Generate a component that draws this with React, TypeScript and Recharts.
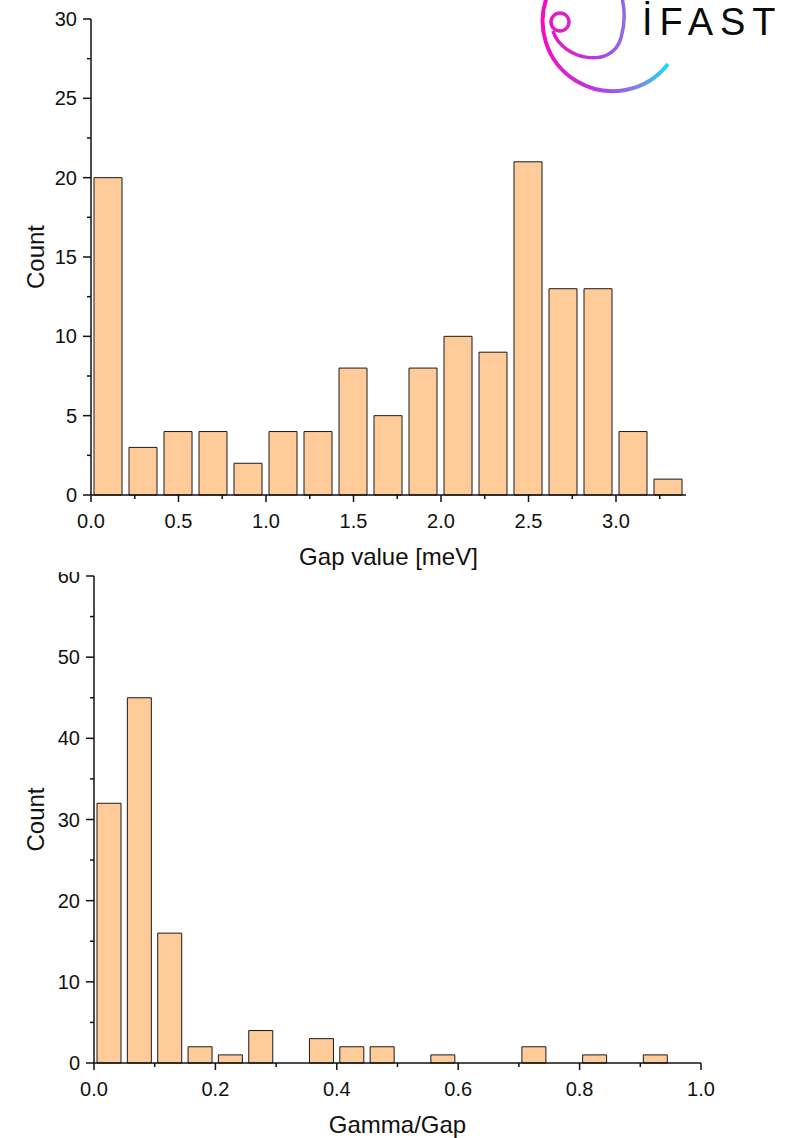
import { BarChart, Bar, XAxis, YAxis } from 'recharts'

// Gap histogram: bin centres (0.2 meV bins) and counts
const gapBins = [0.1, 0.3, 0.5, 0.7, 0.9, 1.1, 1.3, 1.5, 1.7, 1.9, 2.1, 2.3, 2.5, 2.7, 2.9, 3.1, 3.3]
const gapCounts = [20, 3, 4, 4, 2, 4, 4, 8, 5, 8, 10, 9, 21, 13, 13, 4, 1]
const gapXTicks = [0, 0.25, 0.5, 0.75, 1, 1.25, 1.5, 1.75, 2, 2.25, 2.5, 2.75, 3, 3.25]
const gapYTicks = [0, 2.5, 5, 7.5, 10, 12.5, 15, 17.5, 20, 22.5, 25, 27.5, 30]

// Gamma/Gap histogram: bin centres (0.05 bins) and counts
const ratioBins = [
  0.025, 0.075, 0.125, 0.175, 0.225, 0.275, 0.325, 0.375, 0.425, 0.475,
  0.525, 0.575, 0.625, 0.675, 0.725, 0.775, 0.825, 0.875, 0.925, 0.975,
]
const ratioCounts = [32, 45, 16, 2, 1, 4, 0, 3, 2, 2, 0, 1, 0, 0, 2, 0, 1, 0, 1, 0]
const ratioXTicks = [0, 0.1, 0.2, 0.3, 0.4, 0.5, 0.6, 0.7, 0.8, 0.9, 1]
const ratioYTicks = [0, 5, 10, 15, 20, 25, 30, 35, 40, 45, 50, 55, 60]

const gapData = gapBins.map((bin, i) => ({ bin, count: gapCounts[i] }))
const ratioData = ratioBins.map((bin, i) => ({ bin, count: ratioCounts[i] }))

const FONT = '"Liberation Sans", Arial, sans-serif'
const INK = '#111'
const BAR_FILL = '#FFCC99'

const isMajor = (v: number, step: number) => Math.abs(v / step - Math.round(v / step)) < 1e-6

function BottomTick(props: any) {
  const { x, y, payload, step, digits } = props
  const major = isMajor(payload.value, step)
  return (
    <g>
      <line x1={x} x2={x} y1={y} y2={y + (major ? 7 : 4)} stroke={INK} strokeWidth={1.5} />
      {major && (
        <text x={x} y={y + 26} textAnchor="middle" dominantBaseline="central" fontSize={20} fontFamily={FONT} fill={INK}>
          {payload.value.toFixed(digits)}
        </text>
      )}
    </g>
  )
}

function LeftTick(props: any) {
  const { x, y, payload, step } = props
  const major = isMajor(payload.value, step)
  return (
    <g>
      <line x1={x} x2={x - (major ? 8 : 4)} y1={y} y2={y} stroke={INK} strokeWidth={1.5} />
      {major && (
        <text x={x - 14} y={y} textAnchor="end" dominantBaseline="central" fontSize={20} fontFamily={FONT} fill={INK}>
          {payload.value}
        </text>
      )}
    </g>
  )
}

const axisLine = { stroke: INK, strokeWidth: 1.5 }
const titleStyle = { fontSize: 24, fontFamily: FONT, fill: INK }

function Logo() {
  return (
    <svg width={786} height={100} style={{ position: 'absolute', left: 0, top: 0, pointerEvents: 'none' }}>
      <defs>
        <linearGradient id="swirl" gradientUnits="userSpaceOnUse" x1={545} y1={0} x2={670} y2={0}>
          <stop offset="0" stopColor="#f20fc1" />
          <stop offset="0.45" stopColor="#b33fe0" />
          <stop offset="0.75" stopColor="#7a86ea" />
          <stop offset="1" stopColor="#12e4f2" />
        </linearGradient>
      </defs>
      <path d="M 549 -8 A 70 70 0 0 0 668 64" fill="none" stroke="url(#swirl)" strokeWidth={4} />
      <circle cx={560} cy={22} r={9} fill="none" stroke="url(#swirl)" strokeWidth={3.5} />
      <path d="M 553 31 C 562 60, 612 70, 621 38 C 625 24, 625 10, 622 -2" fill="none" stroke="url(#swirl)" strokeWidth={3.5} />
      <text x={642} y={35} fontSize={38} fontFamily={FONT} letterSpacing={7} fill="#0a0a0a">
        İFAST
      </text>
    </svg>
  )
}

export default function App() {
  return (
    <div style={{ position: 'absolute', left: 0, top: 0, width: 786, height: 1138, background: '#fff' }}>
      <div style={{ position: 'absolute', left: 0, top: 0 }}>
        <BarChart width={786} height={570} data={gapData} margin={{ top: 19, right: 100, left: 0, bottom: 0 }}>
          <XAxis
            type="number"
            dataKey="bin"
            domain={[0, 3.4]}
            ticks={gapXTicks}
            interval={0}
            height={75}
            tickSize={0}
            tickMargin={0}
            tickLine={false}
            axisLine={axisLine}
            tick={(p: any) => <BottomTick {...p} step={0.5} digits={1} />}
            label={{ value: 'Gap value [meV]', position: 'insideBottom', offset: 5, style: titleStyle }}
          />
          <YAxis
            type="number"
            domain={[0, 30]}
            ticks={gapYTicks}
            interval={0}
            width={91}
            tickSize={0}
            tickMargin={0}
            tickLine={false}
            axisLine={axisLine}
            tick={(p: any) => <LeftTick {...p} step={5} />}
            label={{ value: 'Count', angle: -90, position: 'insideLeft', offset: 35, style: { ...titleStyle, textAnchor: 'middle' } }}
          />
          <Bar dataKey="count" fill={BAR_FILL} stroke="#1a1a1a" strokeWidth={1} barSize={28} isAnimationActive={false} />
        </BarChart>
      </div>

      {/* lower panel sits in a clipped frame, so its top tick label is trimmed */}
      <div style={{ position: 'absolute', left: 0, top: 572, width: 786, height: 566, overflow: 'hidden' }}>
        <BarChart width={786} height={566} data={ratioData} margin={{ top: 4, right: 85, left: 0, bottom: 0 }}>
          <XAxis
            type="number"
            dataKey="bin"
            domain={[0, 1]}
            ticks={ratioXTicks}
            interval={0}
            height={75}
            tickSize={0}
            tickMargin={0}
            tickLine={false}
            axisLine={axisLine}
            tick={(p: any) => <BottomTick {...p} step={0.2} digits={1} />}
            label={{ value: 'Gamma/Gap', position: 'insideBottom', offset: 5, style: titleStyle }}
          />
          <YAxis
            type="number"
            domain={[0, 60]}
            ticks={ratioYTicks}
            interval={0}
            width={94}
            tickSize={0}
            tickMargin={0}
            tickLine={false}
            axisLine={axisLine}
            tick={(p: any) => <LeftTick {...p} step={10} />}
            label={{ value: 'Count', angle: -90, position: 'insideLeft', offset: 35, style: { ...titleStyle, textAnchor: 'middle' } }}
          />
          <Bar dataKey="count" fill={BAR_FILL} stroke="#1a1a1a" strokeWidth={1} barSize={24} isAnimationActive={false} />
        </BarChart>
      </div>

      <Logo />
    </div>
  )
}
